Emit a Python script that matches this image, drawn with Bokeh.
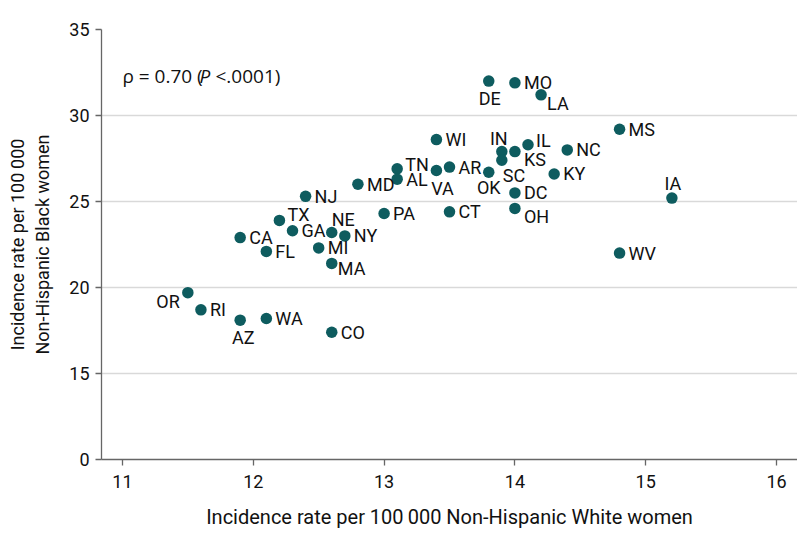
from bokeh.plotting import figure
from bokeh.models import ColumnDataSource, FixedTicker, Label
from bokeh.core.properties import value
from bokeh.embed import file_html
from bokeh.resources import INLINE

# ---- data ----
states = ["DE", "MO", "LA", "MS", "WI", "IN", "IL", "KS", "SC", "NC", "OK",
          "TN", "AL", "VA", "AR", "KY", "DC", "OH", "CT", "PA", "IA", "WV",
          "NJ", "MD", "TX", "GA", "NE", "NY", "CA", "FL", "MI", "MA",
          "OR", "RI", "AZ", "WA", "CO"]
white_rate = [13.8, 14.0, 14.2, 14.8, 13.4, 13.9, 14.1, 14.0, 13.9, 14.4, 13.8,
              13.1, 13.1, 13.4, 13.5, 14.3, 14.0, 14.0, 13.5, 13.0, 15.2, 14.8,
              12.4, 12.8, 12.2, 12.3, 12.6, 12.7, 11.9, 12.1, 12.5, 12.6,
              11.5, 11.6, 11.9, 12.1, 12.6]
black_rate = [32.0, 31.9, 31.2, 29.2, 28.6, 27.9, 28.3, 27.9, 27.4, 28.0, 26.7,
              26.9, 26.3, 26.8, 27.0, 26.6, 25.5, 24.6, 24.4, 24.3, 25.2, 22.0,
              25.3, 26.0, 23.9, 23.3, 23.2, 23.0, 22.9, 22.1, 22.3, 21.4,
              19.7, 18.7, 18.1, 18.2, 17.4]
x_ticks = [11, 12, 13, 14, 15, 16]
y_ticks = [10, 15, 20, 25, 30, 35]   # axis is broken: bottom tick shows "0"
y_tick_labels = {10: "0"}
annotation = ["ρ = 0.70 (", "P", " <.0001)"]

# ---- label placement (style, screen pixels) ----
default_place = (9, 0, "left")
place = {
    "DE": (1, 17, "center"), "IN": (-3, -13, "center"), "OK": (0, 15, "center"),
    "VA": (6, 18, "center"), "IA": (1, -15, "center"), "AZ": (3, 17, "center"),
    "SC": (1, 15, "left"), "KS": (9, 8, "left"), "LA": (6, 9, "left"),
    "OR": (-8, 9, "right"), "TX": (8, -6, "left"), "NE": (0, -13, "left"),
    "MA": (6, 5, "left"), "OH": (9, 8, "left"), "TN": (8, -4, "left"),
    "IL": (8, -4, "left"),
}
dx = [place.get(s, default_place)[0] for s in states]
dy = [place.get(s, default_place)[1] for s in states]
al = [place.get(s, default_place)[2] for s in states]

src = ColumnDataSource(dict(x=white_rate, y=black_rate, lab=states,
                            dx=dx, dy=dy, al=al))

LABEL_FONT = "Roboto"
DOT = "#0e5c5f"
INK = "#111111"

p = figure(width=797, height=537, output_backend="svg", toolbar_location=None,
           x_range=(10.84, 16.16), y_range=(10, 35),
           min_border_left=101, min_border_top=29, min_border_right=0,
           min_border_bottom=78)
p.outline_line_color = None
p.background_fill_color = "white"

p.scatter("x", "y", source=src, size=11.5, fill_color=DOT, line_color=None)
p.text("x", "y", text="lab", source=src, x_offset="dx", y_offset="dy",
       text_align="al", text_baseline="middle", text_font=value(LABEL_FONT),
       text_font_size="18px", text_color=INK)

# axes
p.xaxis.ticker = FixedTicker(ticks=x_ticks)
p.yaxis.ticker = FixedTicker(ticks=y_ticks)
p.yaxis.major_label_overrides = y_tick_labels
for ax in (p.xaxis[0], p.yaxis[0]):
    ax.axis_line_color = "#666666"
    ax.axis_line_width = 1.3
    ax.major_tick_line_color = "#666666"
    ax.major_tick_line_width = 1.3
    ax.major_tick_in = 0
    ax.major_tick_out = 6
    ax.minor_tick_line_color = None
    ax.major_label_text_font = LABEL_FONT
    ax.major_label_text_font_size = "18px"
    ax.major_label_text_color = INK
    ax.axis_label_text_font = LABEL_FONT
    ax.axis_label_text_font_style = "normal"
    ax.axis_label_text_color = INK
p.xaxis.axis_label_text_font_size = "20px"
p.yaxis.axis_label_text_font_size = "18px"
p.xaxis.axis_label = "Incidence rate per 100\u2009000 Non-Hispanic White women"
p.yaxis.axis_label = "Incidence rate per 100\u2009000\nNon-Hispanic Black women"
p.xaxis.major_label_standoff = 9
p.yaxis.major_label_standoff = 6
p.xaxis.axis_label_standoff = 14
p.yaxis.axis_label_standoff = 13

p.xgrid.grid_line_color = None
p.ygrid.ticker = FixedTicker(ticks=y_ticks[1:])
p.ygrid.grid_line_color = "#d9d9d9"
p.ygrid.grid_line_width = 1.5

# correlation annotation (P italic)
offsets = [0, 77, 93]
styles = ["normal", "italic", "normal"]
for txt, off, st in zip(annotation, offsets, styles):
    p.add_layout(Label(x=11.0, y=32.27, x_offset=off, text=txt,
                       text_font="Open Sans", text_font_size="19px",
                       text_font_style=st, text_color=INK,
                       text_baseline="alphabetic", text_align="left"))

open("out.html", "w").write(file_html(p, INLINE))
